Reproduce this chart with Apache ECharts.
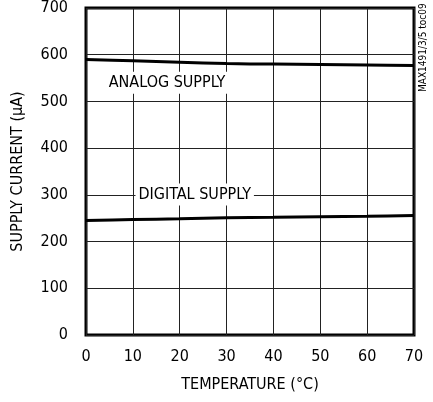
<!DOCTYPE html>
<html>
<head>
<meta charset="utf-8">
<script src="https://cdn.jsdelivr.net/npm/echarts@6/dist/echarts.min.js"></script>
<style>html,body{margin:0;padding:0;background:#fff;}#c{width:433px;height:402px;}</style>
</head>
<body>
<div id="c"></div>
<script>
const temps = [0, 10, 20, 30, 40, 50, 60, 70];
const analogSupply = [590, 587, 584, 581, 580, 579, 578, 577];
const digitalSupply = [245, 247, 249, 251, 252, 253, 254, 256];
const labels = [
  {text: 'ANALOG SUPPLY', coord: [17.3, 540]},
  {text: 'DIGITAL SUPPLY', coord: [23.2, 301]}
];
const FONT = '"DejaVu Sans Condensed", "Liberation Sans Narrow", sans-serif';
const chart = echarts.init(document.getElementById('c'));
const pair = (xs, ys) => xs.map((x, i) => [x, ys[i]]);
chart.setOption({
  animation: false,
  backgroundColor: '#fff',
  grid: {left: 86, right: 19, top: 7, bottom: 67, show: true, borderColor: '#000', borderWidth: 3, backgroundColor: 'transparent'},
  xAxis: {
    type: 'value', min: 0, max: 70, interval: 10,
    name: 'TEMPERATURE (°C)', nameLocation: 'middle', nameGap: 42,
    nameTextStyle: {fontFamily: FONT, fontSize: 16, color: '#000'},
    axisLine: {show: false}, axisTick: {show: false},
    axisLabel: {fontFamily: FONT, fontSize: 16, color: '#000', margin: 14},
    splitLine: {show: true, lineStyle: {color: '#222', width: 1}}
  },
  yAxis: {
    type: 'value', min: 0, max: 700, interval: 100,
    name: 'SUPPLY CURRENT (µA)', nameLocation: 'middle', nameGap: 60,
    nameTextStyle: {fontFamily: FONT, fontSize: 16, color: '#000'},
    axisLine: {show: false}, axisTick: {show: false},
    axisLabel: {fontFamily: FONT, fontSize: 16, color: '#000', margin: 18},
    splitLine: {show: true, lineStyle: {color: '#222', width: 1}}
  },
  series: [
    {
      type: 'line', data: pair(temps, analogSupply), showSymbol: false, smooth: 0.3,
      lineStyle: {color: '#000', width: 3}, z: 3,
      markPoint: {
        symbol: 'rect', symbolSize: 0,
        label: {show: true, formatter: labels[0].text, fontFamily: FONT, fontSize: 16, color: '#000', backgroundColor: '#fff', padding: [3, 4]},
        data: [{coord: labels[0].coord}]
      }
    },
    {
      type: 'line', data: pair(temps, digitalSupply), showSymbol: false, smooth: 0.3,
      lineStyle: {color: '#000', width: 3}, z: 3,
      markPoint: {
        symbol: 'rect', symbolSize: 0,
        label: {show: true, formatter: labels[1].text, fontFamily: FONT, fontSize: 16, color: '#000', backgroundColor: '#fff', padding: [3, 3]},
        data: [{coord: labels[1].coord}]
      }
    }
  ],
  graphic: [
    {type: 'text', x: 418, y: 92, rotation: Math.PI / 2,
     style: {text: 'MAX1491/3/5 toc09', fontFamily: FONT, fontSize: 10, fill: '#000'}}
  ]
});
</script>
</body>
</html>
